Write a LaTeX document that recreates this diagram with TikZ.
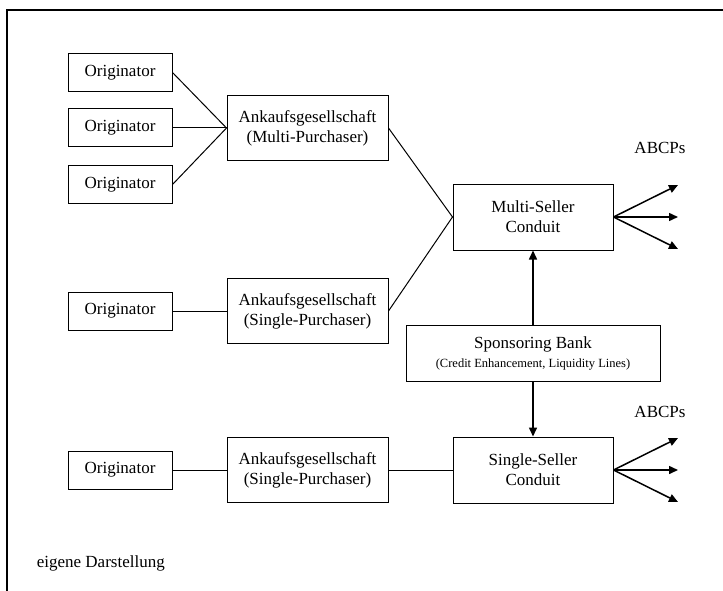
\documentclass[tikz,border=0pt]{standalone}
\usepackage{fontspec}
\setmainfont{Liberation Serif}
\usepackage{tikz}
\usetikzlibrary{arrows.meta}

\begin{document}
\begin{tikzpicture}[x=1pt, y=-1pt, line width=1pt,
  every node/.style={font=\fontsize{17}{20}\selectfont},
  orig/.style={draw, minimum width=104pt, minimum height=38pt, inner sep=0pt},
  ankauf/.style={draw, minimum width=161pt, minimum height=65pt, inner sep=0pt, align=center},
  conduit/.style={draw, minimum width=160pt, minimum height=66pt, inner sep=0pt, align=center},
  bank/.style={draw, minimum width=254pt, minimum height=56pt, inner sep=0pt, align=center},
  flow/.style={line width=1.5pt, -{Triangle[length=9pt, width=8pt]}}]
\useasboundingbox (0,0) rectangle (723,591);
% -- frame --
\draw[line width=1.8pt] (7,591) -- (7,10) -- (723,10);
% -- multi-purchaser branch --
\node[orig] (o1) at (120,72.5) {Originator};
\node[orig] (o2) at (120,128) {Originator};
\node[orig] (o3) at (120,184.5) {Originator};
\node[ankauf] (mp) at (307.5,128) {Ankaufsgesellschaft\\(Multi-Purchaser)};
\draw (o1.east) -- (mp.west);
\draw (o2.east) -- (mp.west);
\draw (o3.east) -- (mp.west);
% -- single-purchaser branch --
\node[orig] (o4) at (120,311) {Originator};
\node[ankauf] (sp1) at (307.5,311) {Ankaufsgesellschaft\\(Single-Purchaser)};
\draw (o4.east) -- (sp1.west);
% -- conduits and bank --
\node[conduit] (msc) at (533,217) {Multi-Seller\\Conduit};
\node[bank] (bank) at (533,353) {Sponsoring Bank\\[-1pt]{\fontsize{12.5}{14}\selectfont (Credit Enhancement, Liquidity Lines)}};
\node[conduit] (ssc) at (533,470) {Single-Seller\\Conduit};
\draw (mp.east) -- (msc.west);
\draw (sp1.east) -- (msc.west);
\draw[flow] (bank.north) -- (msc.south);
\draw[flow] (bank.south) -- (ssc.north);
% -- single-seller row --
\node[orig] (o5) at (120,470) {Originator};
\node[ankauf] (sp2) at (307.5,470) {Ankaufsgesellschaft\\(Single-Purchaser)};
\draw (o5.east) -- (sp2.west);
\draw (sp2.east) -- (ssc.west);
% -- ABCPs --
\node (abcp1) at (660,148) {ABCPs};
\node (abcp2) at (660,412) {ABCPs};
\coordinate (m1) at (678,185);
\coordinate (m2) at (678,217);
\coordinate (m3) at (678,249);
\coordinate (s1) at (678,438);
\coordinate (s2) at (678,470);
\coordinate (s3) at (678,502);
\draw[flow] (msc.east) -- (m1);
\draw[flow] (msc.east) -- (m2);
\draw[flow] (msc.east) -- (m3);
\draw[flow] (ssc.east) -- (s1);
\draw[flow] (ssc.east) -- (s2);
\draw[flow] (ssc.east) -- (s3);
\node[anchor=west] (src) at (33,563) {eigene Darstellung};
\end{tikzpicture}
\end{document}
